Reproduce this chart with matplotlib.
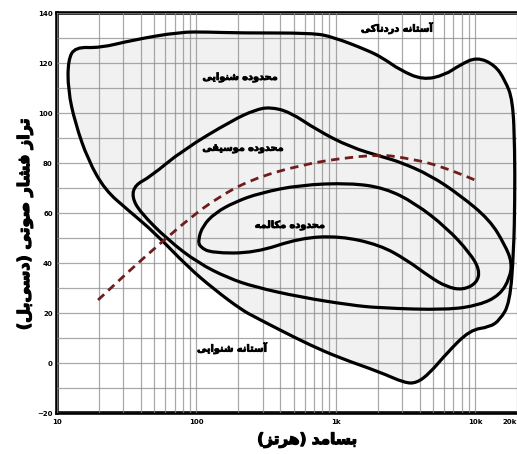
import numpy as np
import matplotlib
matplotlib.use("Agg")
import matplotlib.pyplot as plt
import matplotlib.patheffects as pe
from matplotlib.path import Path
from matplotlib.patches import PathPatch

# Hearing area (threshold of pain on top, threshold of hearing below), Hz / dB
outer_hz = [12.0, 13.5, 20.3, 35, 76, 119, 206, 686, 955, 1675, 2180, 2890, 4230,
            6070, 7780, 10300, 13870, 16370, 18670, 19280, 19280, 18970, 17780,
            15070, 12770, 9180, 6280, 4740, 3820, 3130, 2070, 1072, 653, 398, 263,
            212, 136, 87, 50.5, 32.3, 22.1, 16.7, 13.5, 12.0]
outer_db = [121.2, 126.4, 126, 129.2, 132.4, 132.4, 132, 132, 130.4, 125.2, 122,
            117.2, 113.2, 115.2, 119.2, 122.4, 119.2, 113.2, 105.2, 85.2, 65.2,
            45.2, 24, 17.2, 14.4, 13.2, 4, -4, -8, -8, -3.6, 2, 7.2, 13.2, 18.4,
            21.2, 29.2, 38.4, 52, 61.2, 69.2, 81.2, 96, 109.2]

# Music range
music_hz = [34.5, 39.4, 62.6, 103, 169, 263, 553, 1265, 2075, 6280, 10810, 15070,
            17780, 18370, 16370, 12770, 7780, 4740, 2890, 2180, 1265, 733, 469,
            337, 263, 183, 80, 46.5, 36.3]
music_db = [66.4, 60.4, 49.2, 40, 34, 30.4, 26.4, 23.2, 22, 21.2, 23.2, 27.2, 34,
            40.4, 47.2, 57.2, 67.2, 75.2, 80.4, 82.4, 86.4, 93.2, 100.4, 102.4,
            101.2, 97.2, 85.2, 74.4, 71.2]

# Speech range
speech_hz = [103, 111, 136, 189, 286, 553, 1265, 2253, 3700, 6280, 9180, 10810,
             10300, 8170, 6280, 4740, 3240, 2075, 1072, 553, 263, 129, 106]
speech_db = [49.2, 54.8, 60, 64.4, 68, 71.2, 72, 70, 64, 54, 44, 37.2, 32, 29.2,
             30.4, 34.4, 41.2, 47.2, 50.8, 50, 44, 44, 46.4]

# Equal-loudness style dashed curve
dash_hz = [19.7, 33.4, 56.6, 90, 141, 242, 553, 1265, 2180, 2890, 5590, 9970]
dash_db = [25.2, 37.2, 48.4, 58, 66, 73.2, 79.2, 82.4, 83.2, 82.4, 79.2, 73.2]

y_ticks = [140, 120, 100, 80, 60, 40, 20, 0, -20]
x_ticks = [10, 100, 1000, 10000, 20000]
x_labels = ["10", "100", "1k", "10k", "20k"]

# Persian letters -> (isolated, final, initial, medial) presentation forms
FORMS = {
    "آ": ("\uFE81", "\uFE82", None, None),
    "ا": ("\uFE8D", "\uFE8E", None, None),
    "ب": ("\uFE8F", "\uFE90", "\uFE91", "\uFE92"),
    "ت": ("\uFE95", "\uFE96", "\uFE97", "\uFE98"),
    "ح": ("\uFEA1", "\uFEA2", "\uFEA3", "\uFEA4"),
    "د": ("\uFEA9", "\uFEAA", None, None),
    "ر": ("\uFEAD", "\uFEAE", None, None),
    "ز": ("\uFEAF", "\uFEB0", None, None),
    "س": ("\uFEB1", "\uFEB2", "\uFEB3", "\uFEB4"),
    "ش": ("\uFEB5", "\uFEB6", "\uFEB7", "\uFEB8"),
    "ص": ("\uFEB9", "\uFEBA", "\uFEBB", "\uFEBC"),
    "ف": ("\uFED1", "\uFED2", "\uFED3", "\uFED4"),
    "ق": ("\uFED5", "\uFED6", "\uFED7", "\uFED8"),
    "ل": ("\uFEDD", "\uFEDE", "\uFEDF", "\uFEE0"),
    "م": ("\uFEE1", "\uFEE2", "\uFEE3", "\uFEE4"),
    "ن": ("\uFEE5", "\uFEE6", "\uFEE7", "\uFEE8"),
    "ه": ("\uFEE9", "\uFEEA", "\uFEEB", "\uFEEC"),
    "و": ("\uFEED", "\uFEEE", None, None),
    "ک": ("\uFB8E", "\uFB8F", "\uFB90", "\uFB91"),
    "ی": ("\uFBFC", "\uFBFD", "\uFBFE", "\uFBFF"),
}


def fa(text):
    """Join Persian letters and put them in left-to-right visual order."""
    out = []
    for i, ch in enumerate(text):
        if ch not in FORMS:
            if ch != "\u200c":
                out.append(ch)
            continue
        iso, fin, ini, med = FORMS[ch]
        prev = text[i - 1] if i > 0 else ""
        nxt = text[i + 1] if i + 1 < len(text) else ""
        jp = prev in FORMS and FORMS[prev][2] is not None
        jn = ini is not None and nxt in FORMS
        if jp and jn:
            out.append(med)
        elif jp:
            out.append(fin)
        elif jn:
            out.append(ini)
        else:
            out.append(iso)
    return "".join(out)[::-1].translate(str.maketrans("()", ")("))


def log_mid(a, b):
    # midpoint taken in log-frequency so the curve is even on screen
    return (10 ** ((np.log10(a[0]) + np.log10(b[0])) / 2), (a[1] + b[1]) / 2)


def smooth_closed(xs, ys):
    # quadratic bezier through midpoints, the points act as control points
    pts = np.column_stack([xs, ys]).astype(float)
    n = len(pts)
    verts = [log_mid(pts[-1], pts[0])]
    codes = [Path.MOVETO]
    for i in range(n):
        verts += [tuple(pts[i]), log_mid(pts[i], pts[(i + 1) % n])]
        codes += [Path.CURVE3, Path.CURVE3]
    return Path(verts, codes)


def smooth_open(xs, ys):
    pts = np.column_stack([xs, ys]).astype(float)
    verts = [tuple(pts[0])]
    codes = [Path.MOVETO]
    for i in range(1, len(pts) - 1):
        end = tuple(pts[i + 1]) if i == len(pts) - 2 else log_mid(pts[i], pts[i + 1])
        verts += [tuple(pts[i]), end]
        codes += [Path.CURVE3, Path.CURVE3]
    return Path(verts, codes)


plt.rcParams["font.family"] = ["DejaVu Sans"]

fig = plt.figure(figsize=(5.17, 4.54), dpi=100)
ax = fig.add_axes([57 / 517, 41 / 454, 460 / 517, 400 / 454])
ax.set_xscale("log")
ax.set_xlim(10, 20000)
ax.set_ylim(-20, 140)

# graph-paper grid
ax.set_yticks(y_ticks)
ax.set_yticks(np.arange(-10, 140, 20), minor=True)
ax.set_xticks(x_ticks)
ax.set_xticklabels(x_labels)
ax.xaxis.set_minor_locator(matplotlib.ticker.LogLocator(base=10, subs=np.arange(2, 10)))
ax.xaxis.set_minor_formatter(matplotlib.ticker.NullFormatter())
ax.set_axisbelow(False)
ax.grid(which="both", color="#8c8c8c", lw=0.9, alpha=0.75)
ax.tick_params(which="both", length=0)
ax.tick_params(axis="y", labelsize=5, pad=3)
ax.tick_params(axis="x", labelsize=5, pad=4)
for lab in ax.get_xticklabels() + ax.get_yticklabels():
    lab.set_fontweight("bold")
ax.get_xticklabels()[-1].set_horizontalalignment("right")

for side in ["left", "top", "bottom"]:
    ax.spines[side].set_linewidth(2.6)
ax.spines["right"].set_visible(False)

outer = smooth_closed(outer_hz, outer_db)
ax.add_patch(PathPatch(outer, facecolor="#f1f1f1", edgecolor="none", zorder=0.5))
ax.add_patch(PathPatch(outer, facecolor="none", edgecolor="black", lw=2.3, zorder=3))
ax.add_patch(PathPatch(smooth_closed(music_hz, music_db), facecolor="none",
                       edgecolor="black", lw=2.3, zorder=3))
ax.add_patch(PathPatch(smooth_closed(speech_hz, speech_db), facecolor="none",
                       edgecolor="black", lw=2.3, zorder=3))
ax.add_patch(PathPatch(smooth_open(dash_hz, dash_db), facecolor="none",
                       edgecolor="#6e1c1c", lw=2.0, ls=(0, (3, 2)), zorder=3.2))

# thin stroke so the Persian labels read heavier
heavy = [pe.withStroke(linewidth=0.6, foreground="black")]
lbl = dict(fontsize=7, fontweight="bold", ha="center", va="center", zorder=5,
           path_effects=heavy)
ax.text(2750, 134, fa("آستانه دردناکی"), **lbl)
ax.text(206, 114.4, fa("محدوده شنوایی"), **lbl)
ax.text(216, 86, fa("محدوده موسیقی"), **lbl)
ax.text(469, 55.2, fa("محدوده مکالمه"), **lbl)
ax.text(180, 6, fa("آستانه شنوایی"), **lbl)

heavy_big = [pe.withStroke(linewidth=0.9, foreground="black")]
fig.text(307 / 517, 1 - 440 / 454, fa("بسامد (هرتز)"), fontsize=11,
         fontweight="bold", ha="center", va="center", path_effects=heavy_big)
fig.text(25 / 517, 1 - 224 / 454, fa("تراز فشار صوتی (دسی\u200cبل)"), fontsize=11.5,
         fontweight="bold", ha="center", va="center", rotation=90,
         path_effects=heavy_big)

fig.savefig("out.png", dpi=100)
